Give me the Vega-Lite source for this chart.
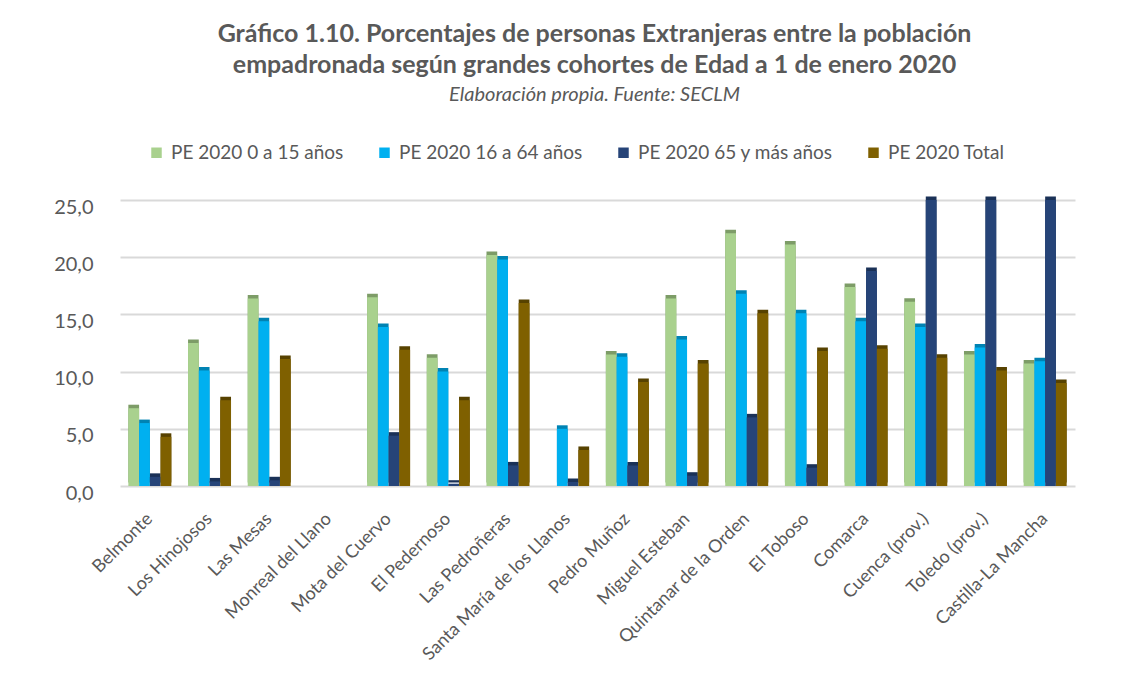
{
  "$schema": "https://vega.github.io/schema/vega-lite/v6.json",
  "width": 955,
  "height": 286,
  "autosize": "none",
  "padding": {"left": 120, "top": 200, "right": 58, "bottom": 203},
  "background": "white",
  "title": {
    "text": ["Gráfico 1.10. Porcentajes de personas Extranjeras entre la población", "empadronada según grandes cohortes de Edad a 1 de enero 2020"],
    "subtitle": "Elaboración propia. Fuente: SECLM",
    "anchor": "middle",
    "frame": "group",
    "dx": -3,
    "font": "Lato",
    "fontSize": 25,
    "fontWeight": "bold",
    "color": "#595959",
    "lineHeight": 31,
    "subtitleFont": "Lato",
    "subtitleFontSize": 20,
    "subtitleFontStyle": "italic",
    "subtitleColor": "#595959",
    "subtitlePadding": 7,
    "offset": 38
  },
  "data": {
    "values": [
      {"name": "Belmonte", "series": "PE 2020 0 a 15 años", "value": 6.8},
      {"name": "Belmonte", "series": "PE 2020 16 a 64 años", "value": 5.5},
      {"name": "Belmonte", "series": "PE 2020 65 y más años", "value": 0.8},
      {"name": "Belmonte", "series": "PE 2020 Total", "value": 4.3},
      {"name": "Los Hinojosos", "series": "PE 2020 0 a 15 años", "value": 12.5},
      {"name": "Los Hinojosos", "series": "PE 2020 16 a 64 años", "value": 10.1},
      {"name": "Los Hinojosos", "series": "PE 2020 65 y más años", "value": 0.4},
      {"name": "Los Hinojosos", "series": "PE 2020 Total", "value": 7.5},
      {"name": "Las Mesas", "series": "PE 2020 0 a 15 años", "value": 16.4},
      {"name": "Las Mesas", "series": "PE 2020 16 a 64 años", "value": 14.4},
      {"name": "Las Mesas", "series": "PE 2020 65 y más años", "value": 0.5},
      {"name": "Las Mesas", "series": "PE 2020 Total", "value": 11.1},
      {"name": "Monreal del Llano", "series": "PE 2020 0 a 15 años", "value": 0},
      {"name": "Monreal del Llano", "series": "PE 2020 16 a 64 años", "value": 0},
      {"name": "Monreal del Llano", "series": "PE 2020 65 y más años", "value": 0},
      {"name": "Monreal del Llano", "series": "PE 2020 Total", "value": 0},
      {"name": "Mota del Cuervo", "series": "PE 2020 0 a 15 años", "value": 16.5},
      {"name": "Mota del Cuervo", "series": "PE 2020 16 a 64 años", "value": 13.9},
      {"name": "Mota del Cuervo", "series": "PE 2020 65 y más años", "value": 4.4},
      {"name": "Mota del Cuervo", "series": "PE 2020 Total", "value": 11.9},
      {"name": "El Pedernoso", "series": "PE 2020 0 a 15 años", "value": 11.2},
      {"name": "El Pedernoso", "series": "PE 2020 16 a 64 años", "value": 10.0},
      {"name": "El Pedernoso", "series": "PE 2020 65 y más años", "value": 0.2},
      {"name": "El Pedernoso", "series": "PE 2020 Total", "value": 7.5},
      {"name": "Las Pedroñeras", "series": "PE 2020 0 a 15 años", "value": 20.2},
      {"name": "Las Pedroñeras", "series": "PE 2020 16 a 64 años", "value": 19.8},
      {"name": "Las Pedroñeras", "series": "PE 2020 65 y más años", "value": 1.8},
      {"name": "Las Pedroñeras", "series": "PE 2020 Total", "value": 16.0},
      {"name": "Santa María de los Llanos", "series": "PE 2020 0 a 15 años", "value": 0},
      {"name": "Santa María de los Llanos", "series": "PE 2020 16 a 64 años", "value": 5.0},
      {"name": "Santa María de los Llanos", "series": "PE 2020 65 y más años", "value": 0.35},
      {"name": "Santa María de los Llanos", "series": "PE 2020 Total", "value": 3.15},
      {"name": "Pedro Muñoz", "series": "PE 2020 0 a 15 años", "value": 11.5},
      {"name": "Pedro Muñoz", "series": "PE 2020 16 a 64 años", "value": 11.3},
      {"name": "Pedro Muñoz", "series": "PE 2020 65 y más años", "value": 1.8},
      {"name": "Pedro Muñoz", "series": "PE 2020 Total", "value": 9.1},
      {"name": "Miguel Esteban", "series": "PE 2020 0 a 15 años", "value": 16.4},
      {"name": "Miguel Esteban", "series": "PE 2020 16 a 64 años", "value": 12.8},
      {"name": "Miguel Esteban", "series": "PE 2020 65 y más años", "value": 0.9},
      {"name": "Miguel Esteban", "series": "PE 2020 Total", "value": 10.7},
      {"name": "Quintanar de la Orden", "series": "PE 2020 0 a 15 años", "value": 22.1},
      {"name": "Quintanar de la Orden", "series": "PE 2020 16 a 64 años", "value": 16.8},
      {"name": "Quintanar de la Orden", "series": "PE 2020 65 y más años", "value": 6.0},
      {"name": "Quintanar de la Orden", "series": "PE 2020 Total", "value": 15.1},
      {"name": "El Toboso", "series": "PE 2020 0 a 15 años", "value": 21.1},
      {"name": "El Toboso", "series": "PE 2020 16 a 64 años", "value": 15.1},
      {"name": "El Toboso", "series": "PE 2020 65 y más años", "value": 1.6},
      {"name": "El Toboso", "series": "PE 2020 Total", "value": 11.8},
      {"name": "Comarca", "series": "PE 2020 0 a 15 años", "value": 17.4},
      {"name": "Comarca", "series": "PE 2020 16 a 64 años", "value": 14.4},
      {"name": "Comarca", "series": "PE 2020 65 y más años", "value": 18.8},
      {"name": "Comarca", "series": "PE 2020 Total", "value": 12.0},
      {"name": "Cuenca (prov.)", "series": "PE 2020 0 a 15 años", "value": 16.1},
      {"name": "Cuenca (prov.)", "series": "PE 2020 16 a 64 años", "value": 13.9},
      {"name": "Cuenca (prov.)", "series": "PE 2020 65 y más años", "value": 25.0},
      {"name": "Cuenca (prov.)", "series": "PE 2020 Total", "value": 11.2},
      {"name": "Toledo (prov.)", "series": "PE 2020 0 a 15 años", "value": 11.5},
      {"name": "Toledo (prov.)", "series": "PE 2020 16 a 64 años", "value": 12.1},
      {"name": "Toledo (prov.)", "series": "PE 2020 65 y más años", "value": 25.0},
      {"name": "Toledo (prov.)", "series": "PE 2020 Total", "value": 10.1},
      {"name": "Castilla-La Mancha", "series": "PE 2020 0 a 15 años", "value": 10.7},
      {"name": "Castilla-La Mancha", "series": "PE 2020 16 a 64 años", "value": 10.9},
      {"name": "Castilla-La Mancha", "series": "PE 2020 65 y más años", "value": 25.0},
      {"name": "Castilla-La Mancha", "series": "PE 2020 Total", "value": 9.0}
    ]
  },
  "encoding": {
    "x": {
      "field": "name",
      "type": "nominal",
      "sort": null,
      "scale": {"paddingInner": 0.28, "paddingOuter": 0.14},
      "axis": {
        "title": null,
        "labelAngle": -45,
        "labelAlign": "right",
        "labelBaseline": "middle",
        "labelFont": "Lato",
        "labelFontSize": 18,
        "labelColor": "#595959",
        "labelPadding": 30,
        "labelLimit": 400,
        "ticks": false,
        "domain": false
      }
    },
    "xOffset": {
      "field": "series",
      "type": "nominal",
      "sort": null,
      "scale": {"paddingInner": 0, "paddingOuter": 0}
    },
    "y": {
      "field": "value",
      "type": "quantitative",
      "scale": {"domain": [0, 25], "nice": false},
      "axis": {
        "title": null,
        "values": [0, 5, 10, 15, 20, 25],
        "labelExpr": "replace(format(datum.value, '.1f'), '.', ',')",
        "labelFont": "Lato",
        "labelFontSize": 20,
        "labelColor": "#595959",
        "labelPadding": 27,
        "labelOffset": 7,
        "ticks": false,
        "domain": false,
        "grid": true,
        "gridColor": "#d9d9d9",
        "gridWidth": 2
      }
    }
  },
  "layer": [
    {
      "mark": {"type": "bar", "xOffset": 4, "x2Offset": 4, "yOffset": -3.5, "y2Offset": -3.5},
      "encoding": {
        "color": {
          "field": "series",
          "type": "nominal",
          "sort": null,
          "scale": {"range": ["#7d9c67", "#0083b3", "#1a3157", "#574200"]},
          "legend": null
        }
      }
    },
    {
      "mark": {"type": "bar"},
      "encoding": {
        "color": {
          "field": "series",
          "type": "nominal",
          "sort": null,
          "scale": {"range": ["#a9d18e", "#00b0f0", "#264478", "#7f6000"]},
          "legend": {
            "title": null,
            "orient": "none",
            "direction": "horizontal",
            "legendX": 27,
            "legendY": -57,
            "symbolType": "square",
            "symbolSize": 110,
            "symbolStrokeWidth": 0,
            "labelFont": "Lato",
            "labelFontSize": 19,
            "labelColor": "#595959",
            "labelOffset": 5,
            "columnPadding": 31,
            "labelLimit": 400
          }
        }
      }
    }
  ],
  "resolve": {"scale": {"color": "independent"}},
  "config": {"view": {"stroke": null}}
}
